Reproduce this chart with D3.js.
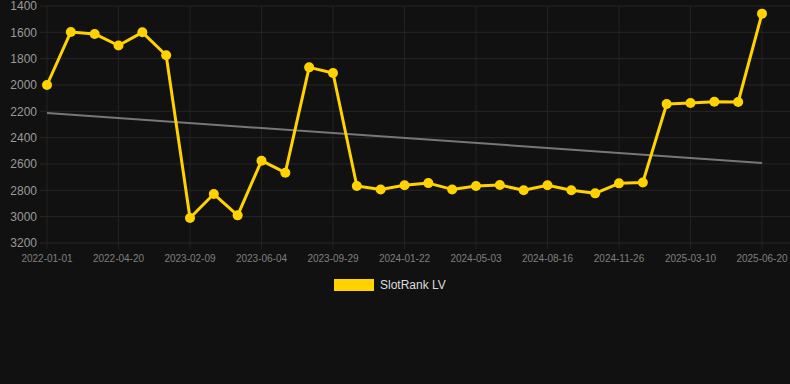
<!DOCTYPE html>
<html><head><meta charset="utf-8">
<script src="https://cdn.jsdelivr.net/npm/d3@7"></script>
<style>html,body{margin:0;padding:0;background:#111111;}svg{display:block;}</style>
</head><body>
<svg id="chart" width="790" height="384"></svg>
<script>
const categories = ["2022-01-01","2022-02-06","2022-03-14","2022-04-20","2022-05-26","2022-07-01","2023-02-09","2023-03-17","2023-04-29","2023-06-04","2023-07-10","2023-08-23","2023-09-29","2023-11-04","2023-12-15","2024-01-22","2024-02-27","2024-03-30","2024-05-03","2024-06-07","2024-07-11","2024-08-16","2024-09-20","2024-10-23","2024-11-26","2024-12-31","2025-02-03","2025-03-10","2025-04-14","2025-05-17","2025-06-20"];
const seriesName = "SlotRank LV";
const values = [2000,1597,1612,1700,1600,1774,3010,2828,2990,2575,2666,1866,1909,2767,2793,2762,2745,2793,2767,2760,2800,2762,2800,2823,2747,2740,2144,2137,2127,2129,1458];
const trendValues = [2213,2592];
const yTicks = [1400,1600,1800,2000,2200,2400,2600,2800,3000,3200];
const labelEvery = 3;

(function () {
const svg = d3.select("#chart");
const pl = 47, pr = 762, pt = 6, pb = 243;
const x = d3.scalePoint().domain(categories).range([pl, pr]);
const y = d3.scaleLinear().domain([1400, 3200]).range([pt, pb]);
const font = "Helvetica, Arial, 'Liberation Sans', sans-serif";

svg.append("g").selectAll("line").data(yTicks).join("line")
  .attr("x1", 40).attr("x2", 790)
  .attr("y1", d => y(d)).attr("y2", d => y(d))
  .attr("stroke", "#262626").attr("stroke-width", 1);

const tickCats = categories.filter((c, i) => i % labelEvery === 0);
svg.append("g").selectAll("line").data(tickCats).join("line")
  .attr("x1", d => x(d)).attr("x2", d => x(d))
  .attr("y1", pt).attr("y2", pb + 6)
  .attr("stroke", "#222222").attr("stroke-width", 1);

svg.append("g").selectAll("text").data(yTicks).join("text")
  .attr("x", 37).attr("y", d => y(d)).attr("dy", "0.35em")
  .attr("text-anchor", "end")
  .attr("font-family", font)
  .attr("font-size", 12).attr("fill", "#9a9a9a")
  .text(d => d);

svg.append("g").selectAll("text").data(tickCats).join("text")
  .attr("x", d => x(d)).attr("y", 262)
  .attr("text-anchor", "middle")
  .attr("font-family", font)
  .attr("font-size", 10).attr("fill", "#7f7f7f")
  .text(d => d);

svg.append("line")
  .attr("x1", x(categories[0])).attr("x2", x(categories[categories.length - 1]))
  .attr("y1", y(trendValues[0])).attr("y2", y(trendValues[1]))
  .attr("stroke", "#777777").attr("stroke-width", 2);

const data = categories.map((c, i) => ({c, v: values[i]}));
const color = "#ffd200";
svg.append("path").datum(data)
  .attr("fill", "none").attr("stroke", color).attr("stroke-width", 3)
  .attr("stroke-linejoin", "round")
  .attr("d", d3.line().x(d => x(d.c)).y(d => y(d.v)));

svg.append("g").selectAll("circle").data(data).join("circle")
  .attr("cx", d => x(d.c)).attr("cy", d => y(d.v)).attr("r", 5)
  .attr("fill", color);

svg.append("rect").attr("x", 334).attr("y", 279).attr("width", 40).attr("height", 12).attr("fill", color);
svg.append("text").attr("x", 380).attr("y", 285).attr("dy", "0.35em")
  .attr("font-family", font)
  .attr("font-size", 12).attr("fill", "#dddddd").text(seriesName);
})();
</script>
</body></html>
